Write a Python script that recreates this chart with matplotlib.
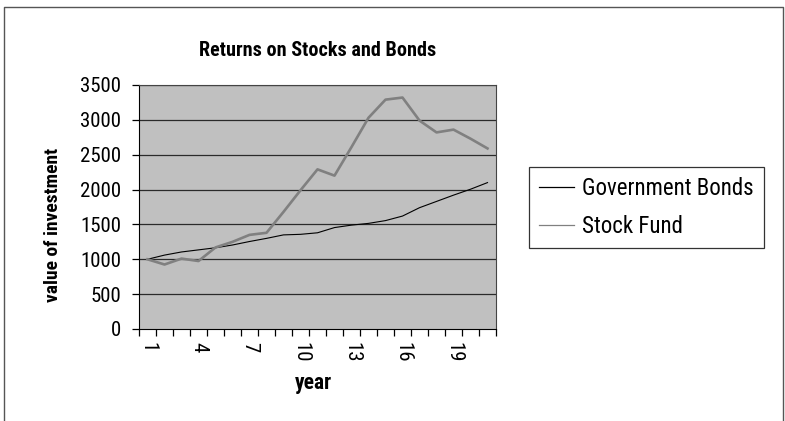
import matplotlib
matplotlib.use("Agg")
import matplotlib.pyplot as plt
from matplotlib import font_manager
from matplotlib.lines import Line2D

# narrow sans if we have one, otherwise plain
installed = {f.name for f in font_manager.fontManager.ttflist}
family = "DejaVu Sans"
for name in ["Liberation Sans Narrow", "Roboto Condensed", "Open Sans Condensed", "DejaVu Sans Condensed"]:
    if name in installed:
        family = name
        break
plt.rcParams["font.family"] = family

years = list(range(1, 22))
bonds = [1000, 1060, 1105, 1135, 1165, 1205, 1255, 1300, 1350, 1358, 1380,
         1455, 1490, 1515, 1555, 1620, 1740, 1830, 1920, 2005, 2100]
stocks = [1000, 925, 1010, 975, 1170, 1250, 1350, 1380, 1680, 1990, 2290,
          2200, 2610, 3030, 3290, 3320, 2990, 2820, 2860, 2730, 2590]
year_labels = [1, 4, 7, 10, 13, 16, 19]
y_ticks = [0, 500, 1000, 1500, 2000, 2500, 3000, 3500]

fig = plt.figure(figsize=(7.85, 4.21), dpi=100)
ax = fig.add_axes([139 / 785, 1 - 329 / 421, 357 / 785, 244 / 421])
ax.set_facecolor("#c0c0c0")

ax.plot(years, bonds, color="black", lw=0.8, label="Government Bonds")
ax.plot(years, stocks, color="#808080", lw=1.9, label="Stock Fund")

ax.set_xlim(0.5, 21.5)
ax.set_ylim(0, 3500)
ax.set_yticks(y_ticks)
for v in y_ticks[1:]:
    ax.axhline(v, color="#2a2a2a", lw=0.9, zorder=1)

# tick marks sit between categories, labels under every third year
ax.set_xticks([x + 0.5 for x in range(0, 22)])
ax.set_xticklabels([])
ax.set_xticks(year_labels, minor=True)
ax.set_xticklabels([str(y) for y in year_labels], minor=True, rotation=-90,
                   fontsize=15)
ax.tick_params(axis="x", which="major", direction="out", length=5, width=0.9)
ax.tick_params(axis="x", which="minor", length=0, pad=9)
ax.tick_params(axis="y", direction="out", length=5, width=0.9, pad=8,
               labelsize=15)

for side in ["top", "right"]:
    ax.spines[side].set_color("#444444")
ax.spines["left"].set_color("black")
ax.spines["bottom"].set_color("black")

fig.text(318 / 785, 1 - 50 / 421, "Returns on Stocks and Bonds", ha="center",
         va="center", fontsize=14.5, fontweight="bold")
fig.text(313 / 785, 1 - 383 / 421, "year", ha="center", va="center",
         fontsize=15.5, fontweight="bold")
fig.text(53 / 785, 1 - 225 / 421, "value of investment", ha="center",
         va="center", rotation=90, fontsize=14, fontweight="bold")

leg = fig.legend(loc="upper left", bbox_to_anchor=(529 / 785, 1 - 167 / 421),
                 borderaxespad=0, fontsize=16.5, frameon=True, fancybox=False,
                 handlelength=1.5, handletextpad=0.35, borderpad=0.45,
                 labelspacing=0.62)
leg.get_frame().set_edgecolor("black")
leg.get_frame().set_linewidth(0.9)
for h in leg.get_lines():
    h.set_linewidth(0.9)

# outer chart frame
fig.add_artist(Line2D([4 / 785, 4 / 785, 783 / 785, 783 / 785],
                      [0, 1 - 7 / 421, 1 - 7 / 421, 0],
                      transform=fig.transFigure, color="#555555", lw=1))

fig.savefig("out.png", dpi=100)
